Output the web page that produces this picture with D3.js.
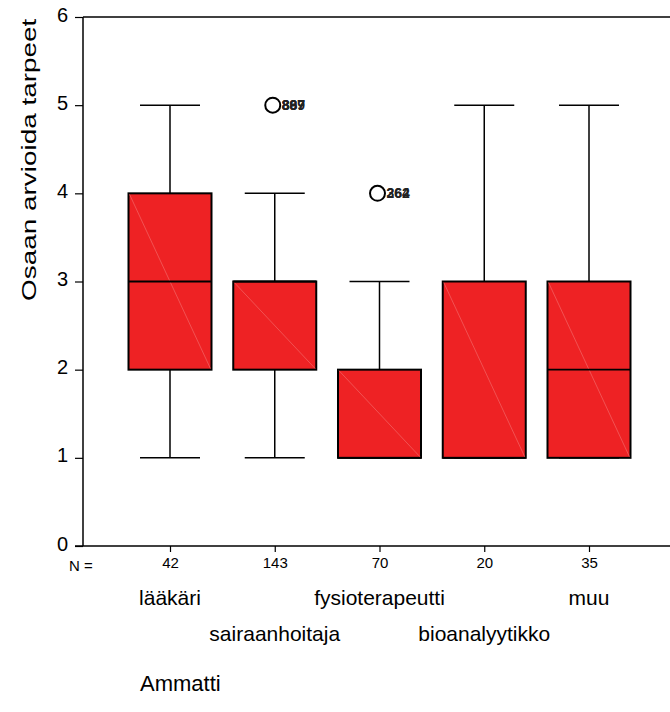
<!DOCTYPE html>
<html>
<head>
<meta charset="utf-8">
<script src="https://cdn.jsdelivr.net/npm/d3@7/dist/d3.min.js"></script>
<style>
  html, body { margin: 0; padding: 0; background: #fff; }
  svg { display: block; font-family: Arial, "Liberation Sans", sans-serif; }
</style>
</head>
<body>
<svg id="chart" width="670" height="712"></svg>
<script>
// Box plot summaries per profession (values on a 0–6 scale)
const categories = ["lääkäri", "sairaanhoitaja", "fysioterapeutti", "bioanalyytikko", "muu"];
const counts     = [42, 143, 70, 20, 35];
const whiskerLow = [1, 1, 1, 1, 1];
const q1         = [2, 2, 1, 1, 1];
const medians    = [3, 3, 1, 1, 2];
const q3         = [4, 3, 2, 3, 3];
const whiskerHigh= [5, 4, 3, 5, 5];
// Outliers: [category index, value, case labels]
const outliers = [
  [1, 5, ["869", "887", "897"]],
  [2, 4, ["262", "364"]]
];
const yTicks = [0, 1, 2, 3, 4, 5, 6];

const FONT = "Arial, 'Liberation Sans', sans-serif";
const svg = d3.select("#chart");
const x = d3.scalePoint().domain(categories).range([170, 589]);
const y = d3.scaleLinear().domain([0, 6]).range([546, 17]);

const boxW = 83, capW = 60;
const fill = "#ee2224";

// Frame lines: left axis, bottom axis, top border
const axisLeft = 83, axisRight = 670;
svg.append("line").attr("x1", axisLeft).attr("x2", axisRight)
  .attr("y1", y(6)).attr("y2", y(6)).attr("stroke", "#000").attr("stroke-width", 1.5);

const yAxis = d3.axisLeft(y).tickValues(yTicks).tickSize(8).tickPadding(7).tickFormat(d3.format("d"));
const gy = svg.append("g").attr("transform", `translate(${axisLeft},0)`).call(yAxis);
gy.attr("font-size", 20).attr("font-family", FONT);
gy.select(".domain").attr("stroke-width", 1.5).attr("d", `M0,${y(6)}V${y(0)}`);
gy.selectAll(".tick line").attr("stroke-width", 1.2);
gy.selectAll(".tick text").attr("fill", "#000").attr("dy", "0.2em");

const xAxis = d3.axisBottom(x).tickSize(6).tickFormat((d, i) => counts[i]).tickPadding(5);
const gx = svg.append("g").attr("transform", `translate(0,${y(0)})`).call(xAxis);
gx.attr("font-size", 15).attr("font-family", FONT);
gx.select(".domain").attr("stroke-width", 1.5).attr("d", `M${axisLeft - 8},0H${axisRight}`);
gx.selectAll(".tick line").attr("stroke-width", 1.2);
gx.selectAll(".tick text").attr("fill", "#000");

svg.append("text").attr("x", 81).attr("y", y(0) + 25).attr("text-anchor", "middle")
  .attr("font-size", 15).text("N =");

// Category labels, staggered on two rows
svg.selectAll("text.cat").data(categories).join("text")
  .attr("class", "cat")
  .attr("x", d => x(d))
  .attr("y", (d, i) => i % 2 === 0 ? 605 : 641)
  .attr("text-anchor", "middle")
  .attr("font-size", 21)
  .text(d => d);

// Axis titles
svg.append("text").attr("x", 140).attr("y", 691).attr("font-size", 22).text("Ammatti");
svg.append("text")
  .attr("transform", `translate(36,${y(4.38)}) rotate(-90) scale(1.33,1)`)
  .attr("text-anchor", "middle").attr("font-size", 21)
  .text("Osaan arvioida tarpeet");

// Boxes
const g = svg.append("g");
categories.forEach((c, i) => {
  const cx = x(c);
  // whiskers
  g.append("line").attr("x1", cx).attr("x2", cx).attr("y1", y(q3[i])).attr("y2", y(whiskerHigh[i]))
    .attr("stroke", "#000").attr("stroke-width", 1.5);
  g.append("line").attr("x1", cx).attr("x2", cx).attr("y1", y(q1[i])).attr("y2", y(whiskerLow[i]))
    .attr("stroke", "#000").attr("stroke-width", 1.5);
  g.append("line").attr("x1", cx - capW / 2).attr("x2", cx + capW / 2)
    .attr("y1", y(whiskerHigh[i])).attr("y2", y(whiskerHigh[i])).attr("stroke", "#000").attr("stroke-width", 1.5);
  g.append("line").attr("x1", cx - capW / 2).attr("x2", cx + capW / 2)
    .attr("y1", y(whiskerLow[i])).attr("y2", y(whiskerLow[i])).attr("stroke", "#000").attr("stroke-width", 1.5);
  // box
  g.append("rect").attr("x", cx - boxW / 2).attr("y", y(q3[i]))
    .attr("width", boxW).attr("height", y(q1[i]) - y(q3[i]))
    .attr("fill", fill).attr("stroke", "#000").attr("stroke-width", 2);
  // faint diagonal shading seam
  g.append("line").attr("x1", cx - boxW / 2 + 1).attr("y1", y(q3[i]) + 1)
    .attr("x2", cx + boxW / 2 - 1).attr("y2", y(q1[i]) - 1)
    .attr("stroke", "#f47272").attr("stroke-width", 0.6);
  // median
  g.append("line").attr("x1", cx - boxW / 2).attr("x2", cx + boxW / 2)
    .attr("y1", y(medians[i])).attr("y2", y(medians[i]))
    .attr("stroke", "#000").attr("stroke-width", 1.8);
});

// Outliers with overlapping case labels
outliers.forEach(([ci, v, labels]) => {
  const cx = x(categories[ci]) - 2;
  labels.forEach(l => {
    g.append("text").attr("x", cx + 9).attr("y", y(v) + 5)
      .attr("font-size", 14).attr("font-weight", "bold").attr("fill", "#222").text(l);
  });
  g.append("circle").attr("cx", cx).attr("cy", y(v)).attr("r", 7.5)
    .attr("fill", "none").attr("stroke", "#000").attr("stroke-width", 2);
});
</script>
</body>
</html>
